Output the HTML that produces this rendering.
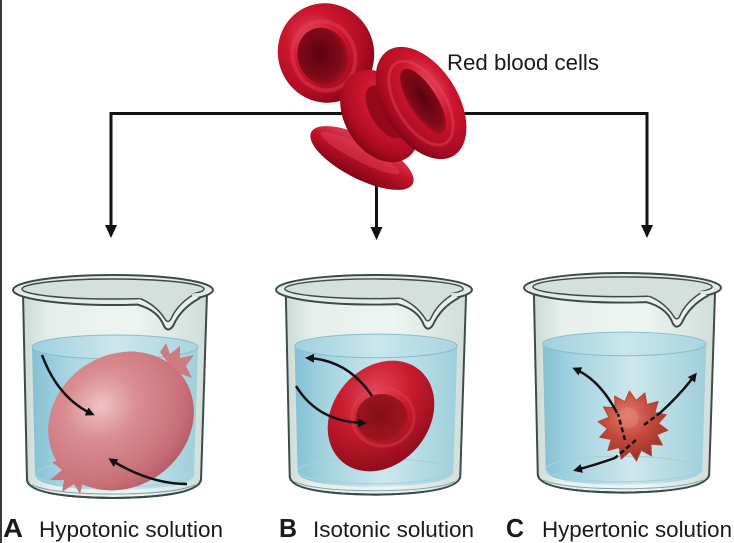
<!DOCTYPE html>
<html>
<head>
<meta charset="utf-8">
<style>
  html,body{margin:0;padding:0;background:#fff;}
  svg{display:block;}
  text{font-family:"Liberation Sans", Arial, sans-serif;fill:#1a1a1a;}
</style>
</head>
<body>
<svg width="734" height="543" viewBox="0 0 734 543" xmlns="http://www.w3.org/2000/svg">
  <defs>
    <linearGradient id="glass" x1="0" y1="0" x2="1" y2="0">
      <stop offset="0" stop-color="#cbdad5"/>
      <stop offset="0.15" stop-color="#e6efec"/>
      <stop offset="0.6" stop-color="#eef4f2"/>
      <stop offset="1" stop-color="#d0ddd9"/>
    </linearGradient>
    <linearGradient id="water" x1="0" y1="0" x2="1" y2="0">
      <stop offset="0" stop-color="#84c1d4"/>
      <stop offset="0.2" stop-color="#a6d4e1"/>
      <stop offset="0.55" stop-color="#cde7ee"/>
      <stop offset="1" stop-color="#9fcfdc"/>
    </linearGradient>
    <linearGradient id="surf" x1="0" y1="0" x2="1" y2="0">
      <stop offset="0" stop-color="#9fd0de"/>
      <stop offset="0.5" stop-color="#cbe6ed"/>
      <stop offset="1" stop-color="#a9d5e1"/>
    </linearGradient>
    <radialGradient id="rbc" cx="0.42" cy="0.32" r="0.7">
      <stop offset="0" stop-color="#e84a64"/>
      <stop offset="0.4" stop-color="#cc162e"/>
      <stop offset="0.8" stop-color="#ab0c22"/>
      <stop offset="1" stop-color="#800514"/>
    </radialGradient>
    <radialGradient id="dimple" cx="0.45" cy="0.45" r="0.6">
      <stop offset="0" stop-color="#5a0410"/>
      <stop offset="0.7" stop-color="#800916"/>
      <stop offset="1" stop-color="#aa1226"/>
    </radialGradient>
    <linearGradient id="edge" x1="0" y1="0" x2="0" y2="1">
      <stop offset="0" stop-color="#e0425c"/>
      <stop offset="0.45" stop-color="#c2132a"/>
      <stop offset="1" stop-color="#820515"/>
    </linearGradient>
    <radialGradient id="swollen" cx="0.45" cy="0.32" r="0.7">
      <stop offset="0" stop-color="#f0c2c2"/>
      <stop offset="0.35" stop-color="#da8e92"/>
      <stop offset="0.8" stop-color="#c97078"/>
      <stop offset="1" stop-color="#b45c66"/>
    </radialGradient>
    <radialGradient id="discB" cx="0.62" cy="0.3" r="0.75">
      <stop offset="0" stop-color="#e4455a"/>
      <stop offset="0.45" stop-color="#c81c2e"/>
      <stop offset="1" stop-color="#8e0c1a"/>
    </radialGradient>
    <radialGradient id="dimB" cx="0.45" cy="0.45" r="0.6">
      <stop offset="0" stop-color="#860d18"/>
      <stop offset="0.8" stop-color="#9c1421"/>
      <stop offset="1" stop-color="#b41a2a"/>
    </radialGradient>
    <radialGradient id="crenate" cx="0.4" cy="0.35" r="0.7">
      <stop offset="0" stop-color="#e07c6c"/>
      <stop offset="0.5" stop-color="#c4493c"/>
      <stop offset="1" stop-color="#94302a"/>
    </radialGradient>
    <marker id="ah" markerUnits="userSpaceOnUse" markerWidth="12" markerHeight="12" refX="6" refY="4.5" orient="auto">
      <path d="M0,0 L9,4.5 L0,9 z" fill="#111"/>
    </marker>

    <g id="beaker">
      <path d="M10,18 L14,205 Q16,222 100,223 Q184,222 188,205 L194,18 Z" fill="url(#glass)" stroke="#3d4b48" stroke-width="2"/>
      <path d="M19,72 L22,200 Q24,214 100,215 Q178,214 181,200 L185,72 A83,12 0 0 0 19,72 Z" fill="url(#water)"/>
      <ellipse cx="102" cy="72" rx="83" ry="12" fill="url(#surf)" stroke="#86bccb" stroke-width="1"/>
      <ellipse cx="100" cy="199" rx="78" ry="13" fill="none" stroke="#a5d0db" stroke-width="1.2"/>
      <path d="M14,205 Q16,222 100,223 Q184,222 188,205" fill="none" stroke="#3d4b48" stroke-width="2"/>
      <path d="M19,210 Q40,219 100,219 Q160,219 182,210" fill="none" stroke="#7aa4ae" stroke-width="1"/>
      <ellipse cx="100" cy="15" rx="100" ry="15" fill="#e4ece9" stroke="#3d4b48" stroke-width="2"/>
      <ellipse cx="100" cy="14" rx="91" ry="10" fill="#d5e0dc" stroke="#3d4b48" stroke-width="1.5"/>
      <path d="M124,21 L186,18 Q166,30 159,44 Q155,50 151,44 Q143,31 126,23 Z" fill="#d5e0dc"/>
      <path d="M124,29.5 Q145,35 151,51 Q155,58 160,51 Q168,33 187,23 L179,20.5 Q164,30 158,44 Q155,49 152,44 Q143,30 127,23.5 Z" fill="#e8efed"/>
      <path d="M124,29.5 Q145,35 151,51 Q155,58 160,51 Q168,33 187,23" fill="none" stroke="#3d4b48" stroke-width="2"/>
      <path d="M127,23.5 Q143,30 152,44 Q155,49 158,44 Q164,30 179,20.5" fill="none" stroke="#3d4b48" stroke-width="1.5"/>
    </g>
  </defs>

  <!-- left border -->
  <rect x="0" y="0" width="2" height="543" fill="#3a3a3a"/>

  <!-- connectors -->
  <line x1="109.5" y1="113.5" x2="648.5" y2="113.5" stroke="#111" stroke-width="3"/>
  <line x1="111" y1="112" x2="111" y2="228" stroke="#111" stroke-width="3"/>
  <polygon points="105,225 117,225 111,238" fill="#111"/>
  <line x1="647" y1="112" x2="647" y2="228" stroke="#111" stroke-width="3"/>
  <polygon points="641,225 653,225 647,238" fill="#111"/>
  <line x1="376.5" y1="180" x2="376.5" y2="230" stroke="#111" stroke-width="3"/>
  <polygon points="370.5,227 382.5,227 376.5,240" fill="#111"/>

  <!-- top red blood cells -->
  <ellipse cx="362" cy="158" rx="57" ry="21" transform="rotate(27 362 158)" fill="url(#edge)"/>
  <ellipse cx="360" cy="153" rx="44" ry="8" transform="rotate(27 360 153)" fill="#e44a62" opacity="0.4"/>
  <g transform="rotate(-20 326 53)">
    <ellipse cx="326" cy="53" rx="48" ry="50" fill="url(#rbc)"/>
    <ellipse cx="323" cy="55" rx="31" ry="35" fill="none" stroke="#e3425a" stroke-width="4" opacity="0.45"/>
    <ellipse cx="322" cy="55" rx="25" ry="29" fill="url(#dimple)"/>
  </g>
  <ellipse cx="380" cy="116" rx="50" ry="35" transform="rotate(58 380 116)" fill="url(#rbc)"/>
  <ellipse cx="386" cy="112" rx="30" ry="15" transform="rotate(58 386 112)" fill="#940a1a"/>
  <ellipse cx="421" cy="103" rx="62" ry="37" transform="rotate(58 421 103)" fill="url(#rbc)"/>
  <ellipse cx="421" cy="103" rx="47" ry="24" transform="rotate(58 421 103)" fill="none" stroke="#ea4e66" stroke-width="3" opacity="0.4"/>
  <ellipse cx="423" cy="101" rx="37" ry="14" transform="rotate(58 423 101)" fill="url(#dimple)"/>

  <text x="447" y="70" font-size="22" textLength="152" lengthAdjust="spacingAndGlyphs">Red blood cells</text>

  <!-- beakers -->
  <use href="#beaker" transform="translate(13,275)"/>
  <use href="#beaker" transform="translate(276,275) scale(0.98,0.985)"/>
  <use href="#beaker" transform="translate(524,273) scale(0.985,0.985)"/>

  <!-- Cell A (swollen) -->
  <path d="M160,352 L166,343 L170,354 L180,346 L180,358 L194,355 L186,366 L192,378 L175,372 Z" fill="#cd7a80"/>
  <path d="M70,458 L52,462 L62,470 L50,480 L64,480 L62,492 L74,484 L80,494 L84,478 Z" fill="#c9737a"/>
  <ellipse cx="121" cy="421" rx="76" ry="66" transform="rotate(-35 121 421)" fill="url(#swollen)"/>
  <path d="M42,355 Q58,398 92,414" fill="none" stroke="#111" stroke-width="2.5" marker-end="url(#ah)"/>
  <path d="M187,484 Q150,484 111,460" fill="none" stroke="#111" stroke-width="2.5" marker-end="url(#ah)"/>

  <!-- Cell B (normal) -->
  <ellipse cx="381" cy="416" rx="60" ry="48" transform="rotate(-50 381 416)" fill="url(#discB)"/>
  <ellipse cx="383" cy="417" rx="31" ry="29" fill="none" stroke="#e04456" stroke-width="3" opacity="0.4"/>
  <ellipse cx="382" cy="418" rx="26" ry="24" fill="url(#dimB)"/>
  <path d="M372,396 Q348,360 308,358" fill="none" stroke="#111" stroke-width="2.5" marker-end="url(#ah)"/>
  <path d="M296,386 Q318,422 364,423" fill="none" stroke="#111" stroke-width="2.5" marker-end="url(#ah)"/>

  <!-- Cell C (crenated) -->
  <g transform="translate(633,426) rotate(7) scale(0.95)">
    <polygon fill="url(#crenate)" stroke="#b84034" stroke-width="1" stroke-linejoin="round"
      points="37,0 26.3,6 33.3,16.1 21.1,16.8 23.1,28.9 11.7,24.3 8.2,36.1 0,27 -8.2,36.1 -11.7,24.3 -23.1,28.9 -21.1,16.8 -33.3,16.1 -26.3,6 -37,0 -26.3,-6 -33.3,-16.1 -21.1,-16.8 -23.1,-28.9 -11.7,-24.3 -8.2,-36.1 0,-27 8.2,-36.1 11.7,-24.3 23.1,-28.9 21.1,-16.8 33.3,-16.1 26.3,-6"/>
    <circle cx="-6" cy="-8" r="11" fill="#e08a7a" opacity="0.45"/>
  </g>
  <path d="M625,440 L618,414" fill="none" stroke="#111" stroke-width="2.5" stroke-dasharray="5 3"/>
  <path d="M644,425 L660,413" fill="none" stroke="#111" stroke-width="2.5" stroke-dasharray="5 3"/>
  <path d="M636,440 L615,458" fill="none" stroke="#111" stroke-width="2.5" stroke-dasharray="5 3"/>
  <path d="M617,413 Q600,380 575,369" fill="none" stroke="#111" stroke-width="2.5" marker-end="url(#ah)"/>
  <path d="M660,413 Q680,395 695,375" fill="none" stroke="#111" stroke-width="2.5" marker-end="url(#ah)"/>
  <path d="M615,458 Q595,465 576,470" fill="none" stroke="#111" stroke-width="2.5" marker-end="url(#ah)"/>

  <!-- labels -->
  <text x="3" y="537" font-size="26" font-weight="bold" textLength="20" lengthAdjust="spacingAndGlyphs">A</text>
  <text x="39" y="537" font-size="22" textLength="184" lengthAdjust="spacingAndGlyphs">Hypotonic solution</text>
  <text x="279" y="537" font-size="26" font-weight="bold" textLength="18" lengthAdjust="spacingAndGlyphs">B</text>
  <text x="313" y="537" font-size="22" textLength="161" lengthAdjust="spacingAndGlyphs">Isotonic solution</text>
  <text x="506" y="537" font-size="26" font-weight="bold" textLength="18" lengthAdjust="spacingAndGlyphs">C</text>
  <text x="542" y="537" font-size="22" textLength="190" lengthAdjust="spacingAndGlyphs">Hypertonic solution</text>
</svg>
</body>
</html>
